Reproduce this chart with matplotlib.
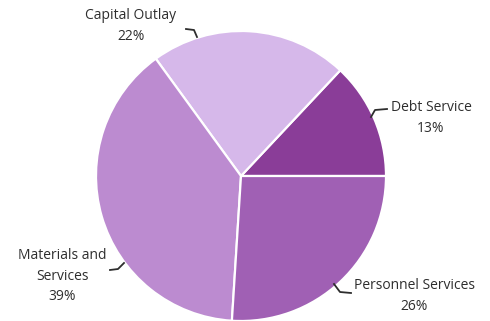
import matplotlib.pyplot as plt

# budget shares, counterclockwise from 3 o'clock
categories = ["Debt Service", "Capital Outlay", "Materials and\nServices", "Personnel Services"]
shares = [13, 22, 39, 26]
colors = ["#8a3d98", "#d6b8ea", "#bc8bd0", "#a060b4"]

H = 321  # image height in px, used to flip y

fig = plt.figure(figsize=(4.9, 3.21), dpi=100)
ax = fig.add_axes([0, 0, 1, 1])

ax.pie(shares, colors=colors, startangle=0, counterclock=True,
       center=(241, H - 176), radius=145, frame=True,
       wedgeprops=dict(edgecolor="white", linewidth=1.6))

ax.set_xlim(0, 490)
ax.set_ylim(0, H)
ax.set_aspect("equal")
ax.axis("off")

# label text position (px) + leader line points (px)
label_pos = [(431, 118), (131, 26), (62, 276), (414, 296)]
leaders = [
    [(371, 117), (375, 110), (387, 109)],
    [(186, 29), (194, 30), (197, 37)],
    [(110, 270), (118, 269), (124, 263)],
    [(334, 284), (340, 292), (351, 293)],
]

for cat, val, (x, y), pts in zip(categories, shares, label_pos, leaders):
    ax.text(x, H - y, f"{cat}\n{val}%", ha="center", va="center",
            fontsize=10, family="Open Sans", color="#2e2e2e", linespacing=1.5)
    ax.plot([p[0] for p in pts], [H - p[1] for p in pts], color="#2e2e2e", lw=1.3)

fig.savefig("out.png", dpi=100)
